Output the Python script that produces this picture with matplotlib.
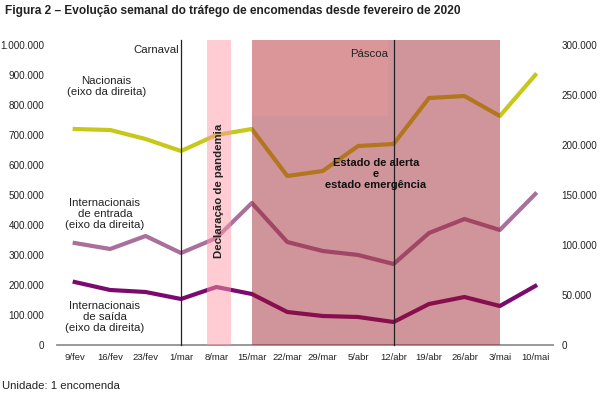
import matplotlib
matplotlib.use('Agg')
import matplotlib.pyplot as plt
from matplotlib.patches import Rectangle

plt.rcParams['font.family'] = ['Liberation Sans', 'DejaVu Sans']

# Semanas (eixo x)
semanas = ['9/fev', '16/fev', '23/fev', '1/mar', '8/mar', '15/mar', '22/mar',
           '29/mar', '5/abr', '12/abr', '19/abr', '26/abr', '3/mai', '10/mai']

# Valores (eixo da direita)
nacionais = [216000, 215000, 206000, 194000, 210000, 216000, 169000,
             174000, 199000, 201000, 247000, 249000, 229000, 270000]
intern_entrada = [102000, 96000, 109000, 92000, 107000, 142000, 103000,
                  94000, 90000, 81000, 112000, 126000, 115000, 151000]
intern_saida = [63000, 55000, 53000, 46000, 58000, 51000, 33000,
                29000, 28000, 23000, 41000, 48000, 39000, 59000]

left_ticks = list(range(0, 1000001, 100000))
right_ticks = list(range(0, 300001, 50000))


def pt_fmt(v):
    return f'{v:,}'.replace(',', '.')


fig = plt.figure(figsize=(6.05, 3.97), dpi=100)
ax = fig.add_axes([57 / 605, 52 / 397, 496 / 605, 300 / 397])
ax2 = ax.twinx()

x = list(range(len(semanas)))
ax.set_xlim(-0.5, len(semanas) - 0.5)
ax.set_ylim(0, 1000000)
ax2.set_ylim(0, 300000)

ax.set_yticks(left_ticks)
ax.set_yticklabels([pt_fmt(v) for v in left_ticks])
ax2.set_yticks(right_ticks)
ax2.set_yticklabels([pt_fmt(v) for v in right_ticks])
ax.set_xticks(x)
ax.set_xticklabels(semanas)

ax.tick_params(axis='y', length=0, pad=9, labelsize=7.1, colors='#222222')
ax2.tick_params(axis='y', length=0, pad=6, labelsize=7.1, colors='#222222')
ax.tick_params(axis='x', length=0, pad=6, labelsize=6.8, colors='#222222')

for a in (ax, ax2):
    for s in ('top', 'left', 'right'):
        a.spines[s].set_visible(False)
    a.spines['bottom'].set_color('#999999')
    a.spines['bottom'].set_linewidth(1.2)

# Linhas
ax2.plot(x, nacionais, color='#c8c81a', lw=3, zorder=3)
ax2.plot(x, intern_entrada, color='#a8709a', lw=3, zorder=3)
ax2.plot(x, intern_saida, color='#7b0a6e', lw=3, zorder=3)

top = 1 + 5 / 300
tr = ax2.get_xaxis_transform()

# Declaração de pandemia
ax2.add_patch(Rectangle((3.74, 0), 0.68, top, transform=tr, color='#ff9aaa',
                        alpha=0.5, lw=0, zorder=4, clip_on=False))
# Estado de alerta / emergência
ax2.add_patch(Rectangle((5, 0), 7, top, transform=tr, color='#991626',
                        alpha=0.46, lw=0, zorder=4, clip_on=False))
# Páscoa
ax2.add_patch(Rectangle((5, 0.763), 3.84, top - 0.763, transform=tr,
                        color='#e49998', alpha=0.6, lw=0, zorder=4, clip_on=False))

# Carnaval e Páscoa
ax2.plot([3, 3], [0, top], transform=tr, color='#222222', lw=0.9, zorder=5, clip_on=False)
ax2.plot([9, 9], [0, top], transform=tr, color='#222222', lw=0.9, zorder=5, clip_on=False)
ax2.text(2.93, 0.983, 'Carnaval', transform=tr, ha='right', va='center',
         fontsize=8.2, color='#222222', zorder=6)
ax2.text(8.85, 0.97, 'Páscoa', transform=tr, ha='right', va='center',
         fontsize=8.2, color='#222222', zorder=6)

# Etiquetas das séries
lbl = dict(transform=tr, ha='center', va='center', fontsize=8.2,
           color='#222222', linespacing=1.15, zorder=6)
ax2.text(0.9, 0.863, 'Nacionais\n(eixo da direita)', **lbl)
ax2.text(0.85, 0.437, 'Internacionais\nde entrada\n(eixo da direita)', **lbl)
ax2.text(0.85, 0.093, 'Internacionais\nde saída\n(eixo da direita)', **lbl)

ax2.text(4.08, 0.513, 'Declaração de pandemia', transform=tr, rotation=90,
         ha='center', va='center', fontsize=8.2, fontweight='bold', color='#222222', zorder=6)
ax2.text(8.5, 0.57, 'Estado de alerta\ne\nestado emergência', transform=tr,
         ha='center', va='center', fontsize=8, fontweight='bold', color='#111111',
         linespacing=1.15, zorder=6)

fig.text(5 / 605, 1 - 11 / 397, 'Figura 2 – Evolução semanal do tráfego de encomendas desde fevereiro de 2020',
         ha='left', va='center', fontsize=8.6, fontweight='bold', color='#222222')
fig.text(2 / 605, 1 - 386 / 397, 'Unidade: 1 encomenda', ha='left', va='center',
         fontsize=8.2, color='#222222')

fig.savefig('out.png', dpi=100)
